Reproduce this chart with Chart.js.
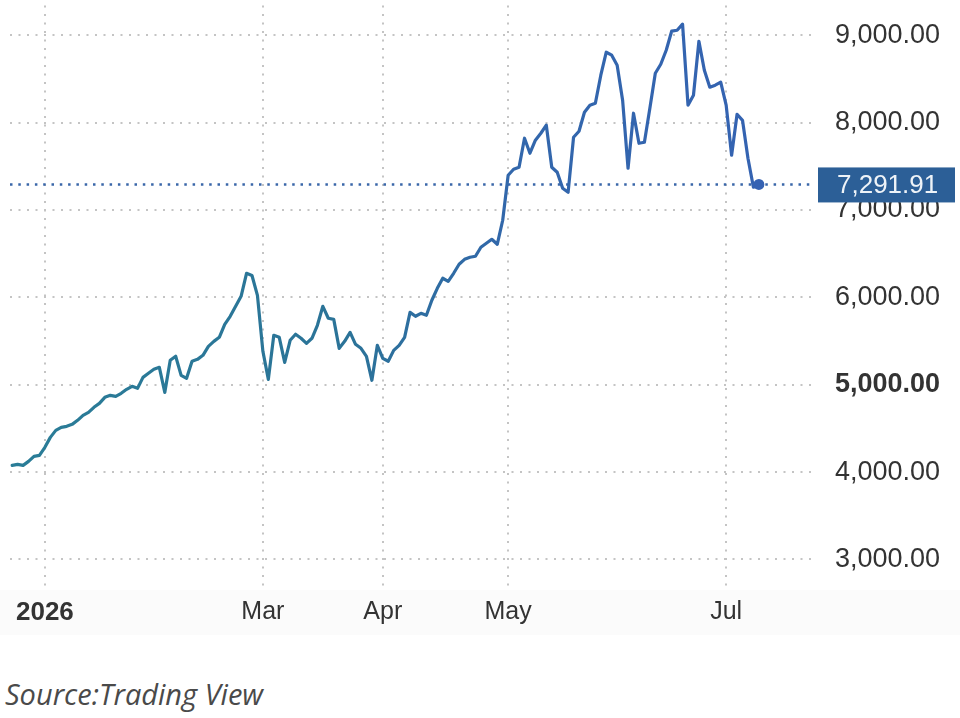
<!DOCTYPE html>
<html>
<head>
<meta charset="utf-8">
<title>Index 2026</title>
<script src="https://cdn.jsdelivr.net/npm/chart.js@4.4.1/dist/chart.umd.min.js"></script>
<style>
  body { margin: 0; background: #fff; }
  #wrap { position: relative; width: 960px; height: 718px; overflow: hidden; }
  #chartBox { position: absolute; left: 0; top: 0; width: 960px; height: 650px; }
  .source { position: absolute; left: 5px; top: 674px; font: italic 29px "Open Sans", sans-serif; color: #4a4a4a; }
</style>
</head>
<body>
<div id="wrap">
  <div id="chartBox"><canvas id="indexChart" width="960" height="650"></canvas></div>
  <div class="source">Source:Trading View</div>
</div>
<script>
// trading day index of the first close (0 = first session of 2026)
const firstDay = -6;

// daily closes
const closes = [
  4076, 4088, 4076, 4122, 4180, 4191, 4283, 4397, 4477, 4512,
  4523, 4546, 4592, 4649, 4683, 4741, 4786, 4855, 4878, 4866,
  4901, 4947, 4981, 4958, 5084, 5130, 5176, 5199, 4912, 5279,
  5325, 5107, 5073, 5268, 5290, 5336, 5439, 5496, 5542, 5691,
  5782, 5897, 6012, 6275, 6250, 6023, 5382, 5061, 5565, 5542,
  5256, 5508, 5577, 5531, 5473, 5531, 5680, 5897, 5760, 5748,
  5416, 5496, 5599, 5462, 5416, 5325, 5050, 5450, 5302, 5268,
  5393, 5450, 5542, 5828, 5783, 5817, 5794, 5966, 6103, 6218,
  6183, 6275, 6378, 6435, 6458, 6470, 6573, 6618, 6664, 6607,
  6882, 7397, 7466, 7489, 7821, 7649, 7798, 7878, 7970, 7489,
  7431, 7248, 7202, 7832, 7901, 8118, 8199, 8221, 8542, 8805,
  8771, 8657, 8256, 7477, 8107, 7763, 7775, 8164, 8565, 8668,
  8828, 9046, 9057, 9126, 8199, 8313, 8931, 8599, 8405, 8428,
  8462, 8199, 7626, 8095, 8026, 7592, 7260, 7291.91
];

// x axis: month starts (in trading days) and their labels
const tickDays = [0, 40, 62, 85, 125];
const tickLabels = ["2026", "Mar", "Apr", "May", "Jul"];

// y axis ticks
const priceTicks = [3000, 4000, 5000, 6000, 7000, 8000, 9000];

const lastPrice = closes[closes.length - 1];
const points = closes.map((v, i) => ({ x: firstDay + i, y: v }));

function fmt(v) {
  return v.toLocaleString("en-US", { minimumFractionDigits: 2, maximumFractionDigits: 2 });
}

function lineColor(ctx) {
  const area = ctx.chart.chartArea;
  if (!area) return "#2b7a96";
  const g = ctx.chart.ctx.createLinearGradient(area.left, 0, area.right, 0);
  g.addColorStop(0, "#2a7d97");
  g.addColorStop(0.42, "#2b7398");
  g.addColorStop(0.62, "#3267ab");
  g.addColorStop(1, "#3562b3");
  return g;
}

// light band behind the month labels + dotted last-price line
const backdrop = {
  id: "backdrop",
  beforeDraw(chart) {
    const { ctx, chartArea } = chart;
    ctx.save();
    ctx.fillStyle = "#fbfbfb";
    ctx.fillRect(0, chartArea.bottom, chart.width, 45);
    ctx.restore();
  },
  beforeDatasetsDraw(chart) {
    const { ctx, chartArea } = chart;
    const y = chart.scales.y.getPixelForValue(lastPrice);
    ctx.save();
    ctx.strokeStyle = "#3a67a9";
    ctx.lineWidth = 2.5;
    ctx.setLineDash([2.5, 5.8]);
    ctx.beginPath();
    ctx.moveTo(chartArea.left, y);
    ctx.lineTo(chartArea.right, y);
    ctx.stroke();
    ctx.restore();
  }
};

// price tag on the right axis
const priceTag = {
  id: "priceTag",
  afterDraw(chart) {
    const { ctx, chartArea } = chart;
    const y = chart.scales.y.getPixelForValue(lastPrice);
    ctx.save();
    ctx.fillStyle = "#2c5f97";
    ctx.fillRect(chartArea.right + 3, y - 17, 137, 35);
    ctx.fillStyle = "#eef3f8";
    ctx.font = "26px 'Liberation Sans', Arial, sans-serif";
    ctx.textBaseline = "middle";
    ctx.textAlign = "left";
    ctx.fillText(fmt(lastPrice), chartArea.right + 22, y + 1);
    ctx.restore();
  }
};

new Chart(document.getElementById("indexChart"), {
  type: "line",
  data: {
    datasets: [{
      data: points,
      borderColor: lineColor,
      borderWidth: 3.2,
      borderJoinStyle: "round",
      borderCapStyle: "round",
      tension: 0,
      pointRadius: ctx => ctx.dataIndex === closes.length - 1 ? 5.5 : 0,
      pointBackgroundColor: "#3562b3",
      pointBorderWidth: 0,
      clip: false
    }]
  },
  options: {
    responsive: false,
    animation: false,
    devicePixelRatio: 1,
    layout: { padding: { left: 10, top: 5, right: 0, bottom: 0 } },
    plugins: { legend: { display: false }, tooltip: { enabled: false } },
    scales: {
      x: {
        type: "linear",
        min: -6.4,
        max: 141.3,
        afterBuildTicks: scale => { scale.ticks = tickDays.map(v => ({ value: v })); },
        afterFit: scale => {
          scale.height = 60;
          scale.paddingLeft = 0;
          scale.paddingRight = 0;
        },
        ticks: {
          autoSkip: false,
          maxRotation: 0,
          padding: 7,
          color: "#333",
          font: ctx => ({ family: "'Liberation Sans', Arial, sans-serif", size: ctx.index === 0 ? 26 : 25, weight: ctx.index === 0 ? "bold" : "normal" }),
          callback: v => tickLabels[tickDays.indexOf(v)]
        },
        grid: { color: "#c4c4c4", lineWidth: 2, drawTicks: false },
        border: { display: false, dash: [2, 6.5] }
      },
      y: {
        position: "right",
        min: 2650,
        max: 9340,
        afterBuildTicks: scale => { scale.ticks = priceTicks.map(v => ({ value: v })); },
        afterFit: scale => {
          scale.width = 145;
          scale.paddingTop = 0;
          scale.paddingBottom = 0;
        },
        ticks: {
          padding: 20,
          color: "#333",
          font: ctx => ({ family: "'Liberation Sans', Arial, sans-serif", size: 27, weight: ctx.tick && ctx.tick.value === 5000 ? "bold" : "normal" }),
          callback: v => fmt(v)
        },
        grid: { color: "#c4c4c4", lineWidth: 2, drawTicks: false },
        border: { display: false, dash: [2, 6.5] }
      }
    }
  },
  plugins: [backdrop, priceTag]
});
</script>
</body>
</html>
